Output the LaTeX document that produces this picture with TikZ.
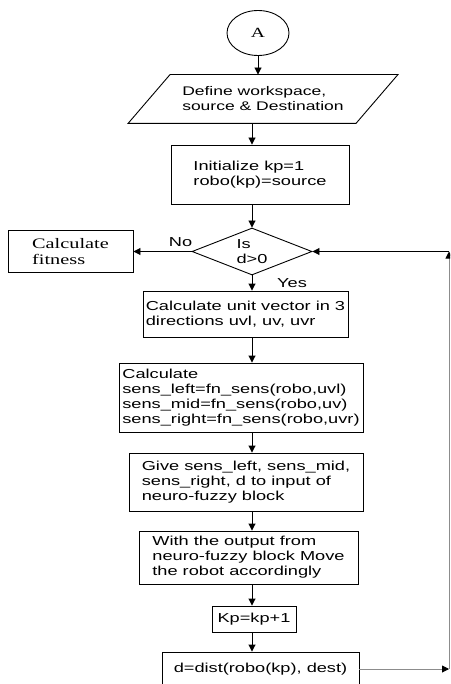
\documentclass[tikz,border=0pt]{standalone}
\usepackage{fontspec}
\setmainfont{Liberation Sans}[FakeStretch=1.4]
\newfontfamily\timesfont{Liberation Serif}[FakeStretch=1.4]
\usepackage{tikz}
\usetikzlibrary{shapes.geometric,arrows.meta,positioning}

\begin{document}
\begin{tikzpicture}
[x=1pt,y=-1pt,line width=0.9pt,>={Triangle[length=7pt,width=7pt]},
every node/.style = {font=\fontsize{13}{15}\selectfont},
block/.style = {draw, rectangle, align=left, inner sep=2pt},
decision/.style = {draw, diamond, aspect=2.5, align=left, inner sep=0pt},
loopline/.style = {draw=black!45},]
\path[use as bounding box,clip] (0,0) rectangle (450,684);
\coordinate (spine) at (252,0);
\coordinate (rt) at (449,0);
\node (A) at (258,33)[draw,ellipse,minimum width=62,minimum height=45,inner sep=0pt,font=\timesfont\fontsize{14}{16}\selectfont] {A};
\node (def) at (263,99)[minimum width=227,minimum height=48,inner sep=0pt,align=left,font=\fontsize{12.5}{15}\selectfont] {Define workspace,\\source \& Destination};
\draw ([xshift=21]def.north west) -- ([xshift=21]def.north east) -- ([xshift=-21]def.south east) -- ([xshift=-21]def.south west) -- cycle;
\node (init) at (260,174.5)[block,minimum width=178,minimum height=59] {Initialize kp=1\\robo(kp)=source};
\node (isd) at (252,251.5)[decision,minimum width=120,minimum height=47] {Is\\d>0};
\node (fit) at (70.5,251.5)[block,minimum width=125,minimum height=42,font=\timesfont\fontsize{14.5}{16}\selectfont] {Calculate\\fitness};
\node (unit) at (245.5,314)[block,minimum width=205,minimum height=46] {Calculate unit vector in 3\\directions uvl, uv, uvr};
\node (sens) at (241,397.5)[block,minimum width=244,minimum height=69] {Calculate\\sens\_left=fn\_sens(robo,uvl)\\sens\_mid=fn\_sens(robo,uv)\\sens\_right=fn\_sens(robo,uvr)};
\node (give) at (246,482)[block,minimum width=234,minimum height=58] {Give sens\_left, sens\_mid,\\sens\_right, d to input of\\neuro-fuzzy block};
\node (move) at (248.5,557.5)[block,minimum width=219,minimum height=53] {With the output from\\neuro-fuzzy block Move\\the robot accordingly};
\node (inc) at (254,619)[block,minimum width=84,minimum height=26] {Kp=kp+1};
\node (dist) at (260.5,669)[block,minimum width=197,minimum height=34] {d=dist(robo(kp), dest)};
\node (no) at (180.5,242) {No};
\node (yes) at (292,283) {Yes};

\draw[->] (A) -- (A |- def.north);
\draw[->] (def.south -| spine) -- (init.north -| spine);
\draw[->] (init.south -| spine) -- (isd.north);
\draw[->] (isd.west) -- (fit.east);
\draw[->] (isd.south) -- (unit.north -| isd);
\draw[->] (unit.south -| spine) -- (sens.north -| spine);
\draw[->] (sens.south -| spine) -- (give.north -| spine);
\draw[->] (give.south -| spine) -- (move.north -| spine);
\draw[->] (move.south -| spine) -- (inc.north -| spine);
\draw[->] (inc.south -| spine) -- (dist.north -| spine);
\draw[loopline,-{Triangle[length=7pt,width=7pt,color=black]}] (dist.east) -- (dist.east -| rt);
\draw[loopline,-{Triangle[length=7pt,width=7pt,color=black]}] (dist.east -| rt) -- (isd.east -| rt);
\draw[->] (isd.east -| rt) -- (isd.east);
\end{tikzpicture}
\end{document}
